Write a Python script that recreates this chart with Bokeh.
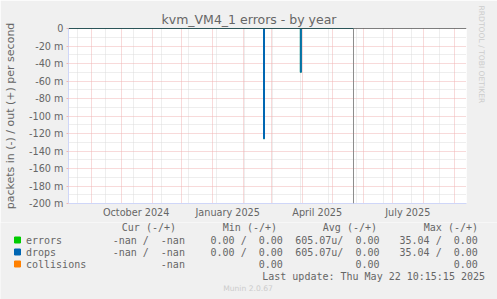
import pandas as pd
from bokeh.plotting import figure
from bokeh.layouts import column
from bokeh.models import (FixedTicker, CustomJSTickFormatter, DatetimeTickFormatter, Grid,
                          Span, Title, ColumnDataSource)
from bokeh.core.properties import value
from bokeh.embed import file_html
from bokeh.resources import INLINE

# ---------------- data ----------------
dates = ["2024-08-09", "2025-02-21", "2025-02-22", "2025-03-30", "2025-03-31", "2025-05-22 10:15:15"]
errors_in = [0.0, -0.126, 0.0, -0.050, 0.0, 0.0]   # packets/s (in, drawn negative)
drops_in = [0.0, -0.126, 0.0, -0.050, 0.0, 0.0]
last_update = "2025-05-22 10:15:15"
x_start, x_end = "2024-08-09", "2025-09-13"

y_ticks = [0.0, -0.02, -0.04, -0.06, -0.08, -0.10, -0.12, -0.14, -0.16, -0.18, -0.20]
y_minor = [-0.01, -0.03, -0.05, -0.07, -0.09, -0.11, -0.13, -0.15, -0.17, -0.19]
label_dates = ["2024-10-16", "2025-01-16", "2025-04-16", "2025-07-16"]
month_starts = ["2024-09-01", "2024-10-01", "2024-11-01", "2024-12-01", "2025-01-01", "2025-02-01",
                "2025-03-01", "2025-04-01", "2025-05-01", "2025-06-01", "2025-07-01", "2025-08-01",
                "2025-09-01"]
week_lines = ["2024-08-18", "2024-09-15", "2024-10-13", "2024-11-10", "2024-12-08", "2025-01-05",
              "2025-02-02", "2025-03-02", "2025-03-30", "2025-04-27", "2025-05-25", "2025-06-22",
              "2025-07-20", "2025-08-17"]

series_names = ["errors", "drops", "collisions"]
series_colors = ["#00CC00", "#0066B3", "#FF8000"]
headers = ["Cur (-/+)", "Min (-/+)", "Avg (-/+)", "Max (-/+)"]
cur_vals = ["-nan /  -nan", "-nan /  -nan", "-nan"]
min_vals = ["0.00 /  0.00", "0.00 /  0.00", "0.00"]
avg_vals = ["605.07u/  0.00", "605.07u/  0.00", "0.00"]
max_vals = ["35.04 /  0.00", "35.04 /  0.00", "0.00"]


def ms(d):
    return pd.Timestamp(d).value / 1e6


FONT = "DejaVu Sans"
MONO = "DejaVu Sans Mono"
TXT = "#666666"
BG = "#F0F0F0"
MAJOR = "#F0B4B4"
MINOR = "#DCDCDC"

H1 = 222
p = figure(width=497, height=H1, x_axis_type="datetime",
           x_range=(ms(x_start), ms(x_end)), y_range=(-0.2, 0.0),
           output_backend="svg", toolbar_location=None,
           min_border_left=67, min_border_right=30, min_border_top=28, min_border_bottom=H1 - 203,
           background_fill_color="white", border_fill_color=BG, outline_line_color=None)

# title
p.title.text = "kvm_VM4_1 errors - by year"
p.title.text_font = FONT
p.title.text_font_size = "12.5px"
p.title.text_font_style = "normal"
p.title.text_color = TXT
p.title.align = "left"
p.title.offset = 93
p.title.standoff = 3

# watermark on the right
p.add_layout(Title(text="RRDTOOL / TOBI OETIKER", align="left", offset=-23, standoff=20,
                   text_font=FONT, text_font_size="7.6px", text_font_style="normal",
                   text_color="#CCCCCC"), "right")

# grids
p.grid.visible = False
p.add_layout(Grid(dimension=0, ticker=FixedTicker(ticks=[ms(d) for d in week_lines]),
                  grid_line_color=MINOR, grid_line_dash="1 1"))
p.add_layout(Grid(dimension=1, ticker=FixedTicker(ticks=y_minor),
                  grid_line_color=MINOR, grid_line_dash="1 1"))
p.add_layout(Grid(dimension=0, ticker=FixedTicker(ticks=[ms(d) for d in month_starts]),
                  grid_line_color=MAJOR, grid_line_dash="1 1"))
p.add_layout(Grid(dimension=1, ticker=FixedTicker(ticks=y_ticks[1:]),
                  grid_line_color=MAJOR, grid_line_dash="1 1"))

# axes
yax = p.yaxis[0]
yax.ticker = FixedTicker(ticks=y_ticks)
yax.formatter = CustomJSTickFormatter(code="return Math.abs(tick) < 1e-9 ? '0' : Math.round(tick*1000) + ' m';")
yax.major_label_text_font = FONT
yax.major_label_text_font_size = "9.7px"
yax.major_label_text_color = TXT
yax.major_tick_in = 0
yax.major_tick_out = 2
yax.major_tick_line_color = MAJOR
yax.minor_tick_line_color = None
yax.major_label_standoff = 3
yax.axis_line_color = "#CFD6F8"
yax.axis_label = "packets in (-) / out (+) per second"
yax.axis_label_text_font = FONT
yax.axis_label_text_font_size = "11px"
yax.axis_label_text_font_style = "normal"
yax.axis_label_text_color = TXT
yax.axis_label_standoff = 9

xax = p.xaxis[0]
xax.ticker = FixedTicker(ticks=[ms(d) for d in label_dates])
fmt = "%B %Y"
xax.formatter = DatetimeTickFormatter(microseconds=fmt, milliseconds=fmt, seconds=fmt, minsec=fmt,
                                      minutes=fmt, hourmin=fmt, hours=fmt, days=fmt, months=fmt, years=fmt)
xax.major_label_text_font = FONT
xax.major_label_text_font_size = "9.7px"
xax.major_label_text_color = TXT
xax.major_tick_line_color = None
xax.major_tick_out = 0
xax.major_tick_in = 0
xax.minor_tick_line_color = None
xax.minor_tick_out = 0
xax.major_label_standoff = 3
xax.axis_line_color = "#CFD6F8"

# data: errors (green) under drops (blue); overlap shows teal
src = ColumnDataSource(dict(x=[ms(d) for d in dates], err=errors_in, drp=drops_in,
                            zero=[0.0] * len(dates)))
p.varea_step(x="x", y1="zero", y2="err", source=src, step_mode="after",
             fill_color="#1A9A8C", fill_alpha=1.0)
p.step("x", "err", source=src, mode="after", line_color=series_colors[0], line_width=1, line_alpha=0.6)
p.step("x", "drp", source=src, mode="after", line_color=series_colors[1], line_width=1)

# zero line and "last update" line
p.add_layout(Span(location=0, dimension="width", line_color="black", line_width=1))
p.add_layout(Span(location=ms(last_update), dimension="height", line_color="#8C8C8C", line_width=1))

# ---------------- legend panel (pixel-like coordinates, y downward) ----------------
H2 = 299 - H1
Y0 = H1  # canvas y of the legend panel top
q = figure(width=497, height=H2, x_range=(0, 497), y_range=(H2, 0),
           x_axis_location=None, y_axis_location=None,
           output_backend="svg", toolbar_location=None, min_border=0,
           background_fill_color=BG, border_fill_color=BG, outline_line_color=None)
q.frame_align = False
q.grid.visible = False


def nb(s):
    return s.replace(" ", "\u00a0")


header_ends = [175.5, 276.5, 376.5, 477.5]
value_ends = [184.4, 282.3, 379.0, 477.3]
row_y = [239.5, 251.5, 263.5]

q.text(x=header_ends, y=[227 - Y0] * 4, text=[nb(h) for h in headers],
       text_font=value(MONO), text_font_size="10px", text_color=TXT,
       text_align="right", text_baseline="middle")

q.scatter(x=[17] * 3, y=[r - Y0 for r in row_y], marker="square", size=6,
          fill_color=series_colors, line_color=series_colors)
q.text(x=[25.5] * 3, y=[r - Y0 for r in row_y], text=series_names,
       text_font=value(MONO), text_font_size="10px", text_color=TXT,
       text_align="left", text_baseline="middle")
for vals, xe in zip([cur_vals, min_vals, avg_vals, max_vals], value_ends):
    q.text(x=[xe] * 3, y=[r - Y0 for r in row_y], text=[nb(v) for v in vals],
           text_font=value(MONO), text_font_size="10px", text_color=TXT,
           text_align="right", text_baseline="middle")

lu = pd.Timestamp(last_update)
q.text(x=[484.5], y=[275.5 - Y0], text=[nb("Last update: " + lu.strftime("%a %b %d %H:%M:%S %Y"))],
       text_font=value(MONO), text_font_size="10px", text_color=TXT,
       text_align="right", text_baseline="middle")
q.text(x=[247.5], y=[288 - Y0], text=["Munin 2.0.67"],
       text_font=value(FONT), text_font_size="7.6px", text_color="#CCCCCC",
       text_align="center", text_baseline="middle")

layout = column(p, q, spacing=0)
open("out.html", "w").write(file_html(layout, INLINE))
